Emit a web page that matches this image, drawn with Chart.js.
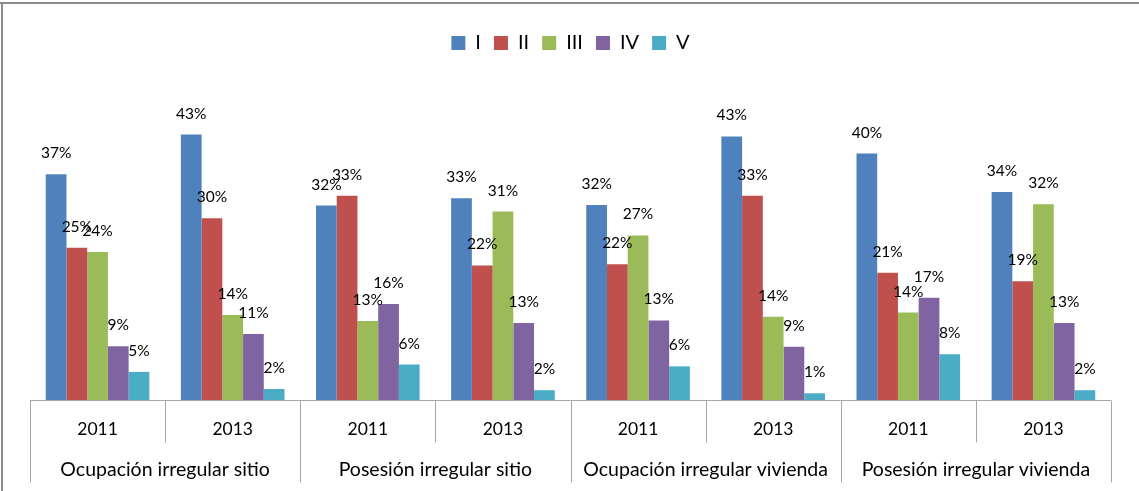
<!DOCTYPE html>
<html>
<head>
<meta charset="utf-8">
<script src="https://cdn.jsdelivr.net/npm/chart.js@4.4.1/dist/chart.umd.min.js"></script>
<style>
  html, body { margin: 0; padding: 0; background: #fff; }
  #wrap { position: relative; width: 1139px; height: 491px; }
</style>
</head>
<body>
<div id="wrap"><canvas id="chart" width="1139" height="491"></canvas></div>
<script>
// categories
const years = ['2011', '2013', '2011', '2013', '2011', '2013', '2011', '2013'];
const groups = ['Ocupación irregular sitio', 'Posesión irregular sitio', 'Ocupación irregular vivienda', 'Posesión irregular vivienda'];
const seriesNames = ['I', 'II', 'III', 'IV', 'V'];

// values in % (labels show them rounded)
const serieI = [36.9, 43.4, 31.8, 33.0, 31.9, 43.1, 40.3, 34.0];
const serieII = [24.9, 29.7, 33.4, 22.0, 22.2, 33.4, 20.8, 19.4];
const serieIII = [24.2, 13.9, 12.9, 30.8, 26.9, 13.6, 14.3, 32.0];
const serieIV = [8.8, 10.8, 15.7, 12.6, 13.0, 8.7, 16.7, 12.6];
const serieV = [4.6, 1.8, 5.8, 1.6, 5.5, 1.1, 7.5, 1.6];

const colors = ['#4F81BD', '#C0504D', '#9BBB59', '#8064A2', '#4BACC6'];
const FONT = 'Lato, "Open Sans", sans-serif';

// frame around the picture
const framePlugin = {
  id: 'frame',
  beforeDraw(chart) {
    const ctx = chart.ctx;
    ctx.save();
    ctx.fillStyle = '#fff';
    ctx.fillRect(0, 0, chart.width, chart.height);
    ctx.strokeStyle = '#8c8c8c';
    ctx.lineWidth = 2;
    ctx.beginPath();
    ctx.moveTo(0, 3);
    ctx.lineTo(chart.width, 3);
    ctx.moveTo(2, 3);
    ctx.lineTo(2, chart.height);
    ctx.stroke();
    ctx.restore();
  }
};

// two-level category axis, Excel style
const axisPlugin = {
  id: 'axisDecor',
  afterDraw(chart) {
    const ctx = chart.ctx;
    const x = chart.scales.x;
    const area = chart.chartArea;
    const base = Math.round(area.bottom) + 0.5;
    const bounds = [];
    for (let i = 0; i <= years.length; i++) {
      if (i === 0) bounds.push(area.left);
      else if (i === years.length) bounds.push(area.right);
      else bounds.push((x.getPixelForValue(i - 1) + x.getPixelForValue(i)) / 2);
    }
    ctx.save();
    ctx.strokeStyle = '#a6a6a6';
    ctx.lineWidth = 1;
    ctx.beginPath();
    ctx.moveTo(area.left, base);
    ctx.lineTo(area.right, base);
    bounds.forEach((b, i) => {
      const bx = Math.round(b) + 0.5;
      ctx.moveTo(bx, base);
      ctx.lineTo(bx, base + (i % 2 === 0 ? 82 : 42));
    });
    ctx.stroke();

    ctx.fillStyle = '#000';
    ctx.textAlign = 'center';
    ctx.textBaseline = 'middle';
    ctx.font = '17.5px ' + FONT;
    years.forEach((y, i) => {
      ctx.fillText(y, x.getPixelForValue(i), base + 29);
    });
    ctx.font = '19.5px ' + FONT;
    groups.forEach((g, i) => {
      ctx.fillText(g, (bounds[i * 2] + bounds[i * 2 + 2]) / 2, base + 69);
    });
    ctx.restore();
  }
};

// percentage labels above each bar
const labelPlugin = {
  id: 'barLabels',
  afterDatasetsDraw(chart) {
    const ctx = chart.ctx;
    ctx.save();
    ctx.fillStyle = '#000';
    ctx.textAlign = 'center';
    ctx.textBaseline = 'middle';
    ctx.font = '15.5px ' + FONT;
    chart.data.datasets.forEach((ds, d) => {
      chart.getDatasetMeta(d).data.forEach((bar, i) => {
        ctx.fillText(Math.round(ds.data[i]) + '%', bar.x, bar.y - 21);
      });
    });
    ctx.restore();
  }
};

const seriesData = [serieI, serieII, serieIII, serieIV, serieV];

new Chart(document.getElementById('chart'), {
  type: 'bar',
  data: {
    labels: years,
    datasets: seriesNames.map((name, i) => ({
      label: name,
      data: seriesData[i],
      backgroundColor: colors[i],
      borderWidth: 0,
      categoryPercentage: 0.767,
      barPercentage: 1.0
    }))
  },
  options: {
    responsive: false,
    animation: false,
    layout: {
      padding: { top: 20, left: 30, right: 28, bottom: 91 }
    },
    plugins: {
      legend: {
        position: 'top',
        labels: {
          boxWidth: 14,
          boxHeight: 14,
          padding: 13,
          color: '#000',
          font: { family: FONT, size: 20 }
        }
      },
      tooltip: { enabled: false }
    },
    scales: {
      x: { display: false },
      y: { display: false, min: 0, max: 55.1 }
    }
  },
  plugins: [framePlugin, axisPlugin, labelPlugin]
});
</script>
</body>
</html>
